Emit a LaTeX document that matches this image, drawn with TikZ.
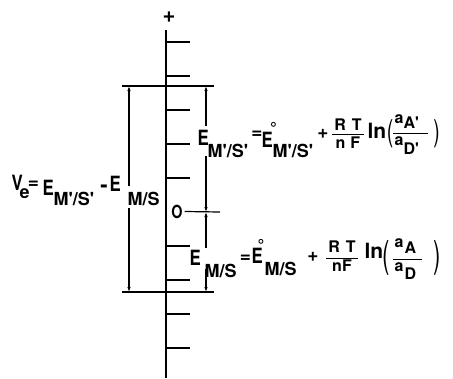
\documentclass[tikz,border=0pt]{standalone}
\usepackage{graphicx}
\usepackage{fontspec}
\setsansfont{TeX Gyre Heros}
\usetikzlibrary{arrows.meta}
\newcommand\sq[1]{\scalebox{0.8}[1]{#1}}
\newcommand\pr{\textquotesingle}
\begin{document}
\begin{tikzpicture}[x=1pt,y=-1pt,line width=1.2pt,
  dim/.style={-{Latex[length=5pt,width=3.5pt]}},
  tb/.style={anchor=base west,inner sep=0pt,font=\sffamily\bfseries\fontsize{21}{21}\selectfont},
  ts/.style={anchor=base west,inner sep=0pt,font=\sffamily\bfseries\fontsize{18}{18}\selectfont},
  tf/.style={anchor=base,inner sep=0pt,font=\sffamily\bfseries\fontsize{16}{16}\selectfont},
  ta/.style={anchor=base west,inner sep=0pt,font=\sffamily\bfseries\fontsize{16}{16}\selectfont},
  sym/.style={inner sep=0pt,font=\sffamily\bfseries\fontsize{19}{19}\selectfont},
  par/.style={inner sep=0pt,font=\sffamily\fontsize{30}{30}\selectfont}]
\useasboundingbox (0,0) rectangle (453,378);
% ---------- axis ----------
\coordinate (axtop) at (166,30);
\coordinate (axbot) at (166,378);
\draw (axtop) -- (axbot);
\node[sym,font=\sffamily\bfseries\fontsize{22}{22}\selectfont] (plus) at (169,17.5) {+};
\foreach \y in {42,76,110,144,178,246,280,314,348}
  \draw (166,\y) -- (190,\y);
% zero level
\node[sym,font=\sffamily\bfseries\fontsize{18}{18}\selectfont] (zero) at (177,211.5) {\scalebox{0.8}[1]{O}};
\coordinate (zr) at (220,212);
\draw (zero.east) ++(1.5,0) -- (zr);
% ---------- long horizontal lines ----------
\coordinate (hl1) at (122,86); \coordinate (hr1) at (214,86);
\coordinate (hl2) at (122,292); \coordinate (hr2) at (214,292);
\draw (hl1) -- (hr1);
\draw (hl2) -- (hr2);
% ---------- left dimension ----------
\coordinate (la) at (129,186); \coordinate (lt) at (129,86);
\coordinate (lb) at (129,208); \coordinate (lbb) at (129,292);
\draw[dim] (la) -- (lt);
\draw[dim] (lb) -- (lbb);
% ---------- right upper dimension ----------
\coordinate (ra) at (206,126); \coordinate (rt) at (206,86);
\coordinate (rb) at (206,156); \coordinate (r0) at (206,212);
\draw[dim] (ra) -- (rt);
\draw[dim] (rb) -- (r0);
% ---------- right lower dimension ----------
\coordinate (sa) at (206,248); \coordinate (sb) at (206,269);
\coordinate (s2) at (206,292);
\draw[dim] (sa) -- (r0);
\draw[dim] (sb) -- (s2);
% ---------- V_e = E_{M'/S'} - E_{M/S} ----------
\node[tb] (v) at (11,190) {\sq{V}};
\node[ts] (ve) at (19,198) {e};
\node[sym] (veq) at (33.5,185) {=};
\node[tb] (ve1) at (42,195) {\sq{E}};
\node[ts] (ve1s) at (53,205) {M\pr/S\pr};
\node[sym,font=\sffamily\bfseries\fontsize{22}{22}\selectfont] (vmin) at (104,188.5) {-};
\node[tb] (ve2) at (109,191) {\sq{E}};
\node[ts] (ve2s) at (127,205) {M/S};
% ---------- top equation ----------
\node[tb] (te1) at (197,145) {\sq{E}};
\node[ts] (te1s) at (207,157) {M\pr/S\pr};
\node[sym] (teq) at (257,134.5) {=};
\node[tb] (te2) at (261,147) {\sq{E}};
\node[sym,font=\sffamily\bfseries\fontsize{17}{17}\selectfont] (tdeg) at (273.5,128.5) {°};
\node[ts] (te2s) at (272,157) {M\pr/S\pr};
\node[sym] (tplus) at (323,133.5) {+};
\node[tf] (trt) at (348,130) {R\hspace{6pt}T};
\coordinate (tb1) at (332,134); \coordinate (tb2) at (364,134);
\draw[line width=1pt] (tb1) -- (tb2);
\node[tf] (tnf) at (348,148) {n\hspace{5pt}F};
\node[tb] (tln) at (367,138) {ln};
\node[par] (tlp) at (390,134) {\scalebox{0.65}[1]{(}};
\node[ta] (taa) at (394,123) {a};
\node[ta] (tA) at (403,128) {A\pr};
\coordinate (tf1) at (393,133); \coordinate (tf2) at (428,133);
\draw[line width=1pt] (tf1) -- (tf2);
\node[ta] (tad) at (394,145) {a};
\node[ta] (tD) at (403,154) {D\pr};
\node[par] (trp) at (436.5,134) {\scalebox{0.65}[1]{)}};
% ---------- bottom equation ----------
\node[tb] (be1) at (189,265) {\sq{E}};
\node[ts] (be1s) at (204,277) {M/S};
\node[sym] (beq) at (245.5,258.5) {=};
\node[tb] (be2) at (251,263) {\sq{E}};
\node[sym,font=\sffamily\bfseries\fontsize{17}{17}\selectfont] (bdeg) at (261,245) {°};
\node[ts] (be2s) at (264,275) {M/S};
\node[sym] (bplus) at (313,256.5) {+};
\node[tf] (brt) at (342,252) {R\hspace{6pt}T};
\coordinate (bb1) at (326,258); \coordinate (bb2) at (358,258);
\draw[line width=1pt] (bb1) -- (bb2);
\node[tf] (bnf) at (342,271) {nF};
\node[tb] (bln) at (364,258) {ln};
\node[par,font=\sffamily\fontsize{37}{37}\selectfont] (blp) at (386.5,257.5) {\scalebox{0.6}[1]{(}};
\node[ta] (baa) at (394,247) {a};
\node[ta] (bA) at (404,253) {A};
\coordinate (bf1) at (393,259); \coordinate (bf2) at (422,259);
\draw[line width=1pt] (bf1) -- (bf2);
\node[ta] (bad) at (394,271) {a};
\node[ta] (bD) at (404,279) {D};
\node[par,font=\sffamily\fontsize{37}{37}\selectfont] (brp) at (437.5,257.5) {\scalebox{0.6}[1]{)}};
\end{tikzpicture}
\end{document}
